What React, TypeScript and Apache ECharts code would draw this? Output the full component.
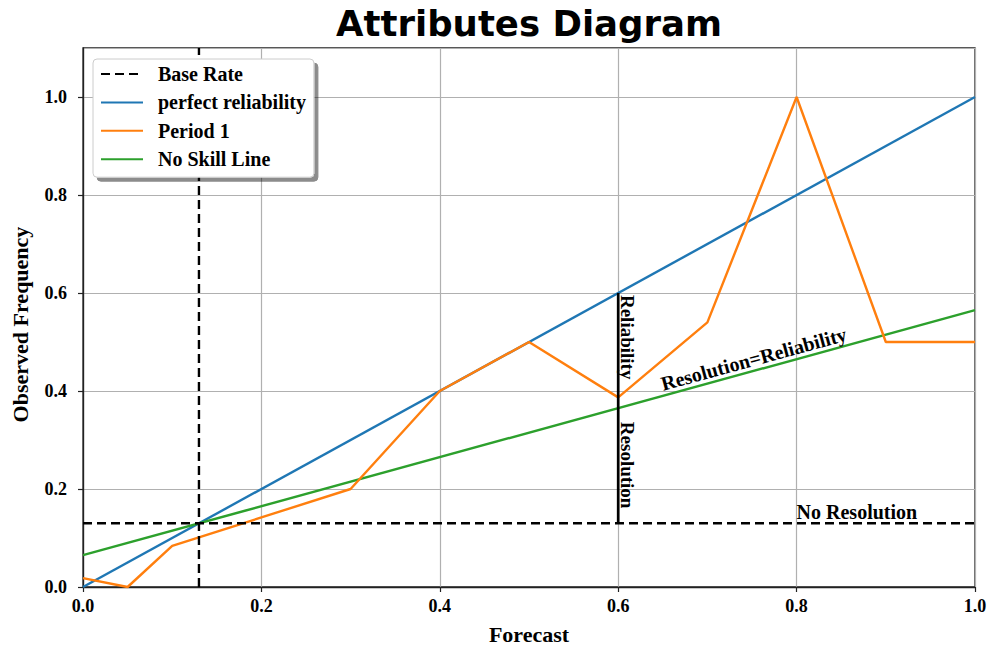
import React, { useEffect, useRef } from "react";
import * as echarts from "echarts";

// ---- data ----
const baseRate = 0.13;
const forecastBins = [0, 0.05, 0.1, 0.2, 0.3, 0.4, 0.5, 0.6, 0.7, 0.8, 0.9, 1.0];
const period1Obs = [0.018, 0, 0.084, 0.142, 0.2, 0.4, 0.5, 0.387, 0.54, 1.0, 0.5, 0.5];
const perfectX = [0, 1];
const perfectY = [0, 1];
const noSkillX = [0, 1];
const noSkillY = [0.065, 0.565];
const xTickValues = [0, 0.2, 0.4, 0.6, 0.8, 1.0];
const yTickValues = [0, 0.2, 0.4, 0.6, 0.8, 1.0];
const yMax = 1.1;
const reliabilityX = 0.6;
const reliabilityTop = 0.6;
const legendNames = ["Base Rate", "perfect reliability", "Period 1", "No Skill Line"];
const annotations = [
  { text: "Reliability", x: 0.61, y: 0.596, rotate: -90, align: "left", size: 19 },
  { text: "Resolution", x: 0.61, y: 0.337, rotate: -90, align: "left", size: 19 },
  { text: "Resolution=Reliability", x: 0.755, y: 0.446, rotate: 15.3, align: "center", size: 20, bottom: true },
  { text: "No Resolution", x: 0.8, y: 0.132, rotate: 0, align: "left", size: 20, bottom: true },
];

const SERIF = "'Liberation Serif', 'Times New Roman', serif";

const zip = (xs: number[], ys: number[]) => xs.map((x, i) => [x, ys[i]]);

export default function App() {
  const ref = useRef<HTMLDivElement>(null);
  useEffect(() => {
    document.body.style.margin = "0";
    document.documentElement.style.overflow = "hidden";
    if (!ref.current) return;
    const chart = echarts.init(ref.current, undefined, { renderer: "svg" });
    const dash = [9, 5];
    chart.setOption({
      animation: false,
      backgroundColor: "#fff",
      grid: {
        left: 83,
        right: 12,
        top: 48,
        bottom: 58,
        outerBoundsMode: "none",
        containLabel: false,
        show: true,
        borderColor: "#222",
        borderWidth: 1.3,
      },
      legend: {
        data: legendNames,
        orient: "vertical",
        left: 93,
        top: 59,
        z: 20,
        padding: [5, 8, 8, 7],
        itemWidth: 42,
        itemHeight: 14,
        itemGap: 8.4,
        backgroundColor: "#fff",
        borderColor: "#ccc",
        borderWidth: 1,
        borderRadius: 4,
        shadowColor: "rgba(0,0,0,0.45)",
        shadowBlur: 0,
        shadowOffsetX: 4,
        shadowOffsetY: 4,
        itemStyle: { opacity: 0 },
        textStyle: {
          fontFamily: SERIF,
          fontWeight: "bold",
          fontSize: 20,
          color: "#000",
          lineHeight: 20,
          padding: [0, 0, 0, 10],
        },
      },
      xAxis: {
        type: "value",
        min: 0,
        max: 1,
        interval: 0.2,
        name: "Forecast",
        nameLocation: "middle",
        nameGap: 36,
        nameTextStyle: { fontFamily: SERIF, fontWeight: "bold", fontSize: 22, color: "#000" },
        axisLine: { show: true, onZero: false, lineStyle: { color: "#222", width: 1.3 } },
        axisTick: { show: true, length: 5, lineStyle: { color: "#222", width: 1.2 } },
        axisLabel: {
          margin: 10,
          fontFamily: SERIF,
          fontWeight: "bold",
          fontSize: 18,
          color: "#000",
          formatter: (v: number) =>
            xTickValues.some((t) => Math.abs(t - v) < 1e-6) ? v.toFixed(1) : "",
        },
        splitLine: { show: true, lineStyle: { color: "#b0b0b0", width: 1.2 } },
      },
      yAxis: {
        type: "value",
        min: 0,
        max: yMax,
        interval: 0.2,
        name: "Observed Frequency",
        nameLocation: "middle",
        nameGap: 52,
        nameTextStyle: {
          fontFamily: SERIF,
          fontWeight: "bold",
          fontSize: 22,
          color: "#000",
          padding: [0, 14, 0, 0],
        },
        axisLine: { show: true, onZero: false, lineStyle: { color: "#222", width: 1.3 } },
        axisTick: { show: true, length: 5, lineStyle: { color: "#222", width: 1.2 } },
        axisLabel: {
          margin: 16,
          fontFamily: SERIF,
          fontWeight: "bold",
          fontSize: 18,
          color: "#000",
          showMaxLabel: false,
          formatter: (v: number) =>
            yTickValues.some((t) => Math.abs(t - v) < 1e-6) ? v.toFixed(1) : "",
        },
        splitLine: { show: true, lineStyle: { color: "#b0b0b0", width: 1.2 } },
      },
      series: [
        {
          name: "perfect reliability",
          type: "line",
          data: zip(perfectX, perfectY),
          symbol: "none",
          color: "#1f77b4",
          lineStyle: { color: "#1f77b4", width: 2.4 },
          z: 3,
        },
        {
          name: "Period 1",
          type: "line",
          data: zip(forecastBins, period1Obs),
          symbol: "none",
          color: "#ff7f0e",
          lineStyle: { color: "#ff7f0e", width: 2.4 },
          z: 4,
        },
        {
          name: "No Skill Line",
          type: "line",
          data: zip(noSkillX, noSkillY),
          symbol: "none",
          color: "#2ca02c",
          lineStyle: { color: "#2ca02c", width: 2.4 },
          z: 3,
        },
        {
          name: "Base Rate",
          type: "line",
          data: [
            [baseRate, 0],
            [baseRate, yMax],
          ],
          symbol: "none",
          color: "#000",
          lineStyle: { color: "#000", width: 2.4, type: dash },
          z: 5,
        },
        {
          name: "Base Rate",
          type: "line",
          data: [
            [0, baseRate],
            [1, baseRate],
          ],
          symbol: "none",
          color: "#000",
          lineStyle: { color: "#000", width: 2.4, type: dash },
          z: 5,
        },
        {
          name: "reliabilityBar",
          type: "line",
          data: [
            [reliabilityX, baseRate],
            [reliabilityX, reliabilityTop],
          ],
          symbol: "none",
          color: "#000",
          lineStyle: { color: "#000", width: 2.7 },
          z: 6,
        },
      ],
    });

    const graphics: any[] = [
      {
        type: "text",
        x: 83 + (987 - 83 - 12) / 2,
        y: 23.5,
        style: {
          text: "Attributes Diagram",
          fontFamily: "'DejaVu Sans', sans-serif",
          fontWeight: "bold",
          fontSize: 35.5,
          fill: "#000",
          align: "center",
          verticalAlign: "middle",
        },
      },
    ];
    annotations.forEach((a) => {
      const p = chart.convertToPixel({ gridIndex: 0 }, [a.x, a.y]) as number[];
      graphics.push({
        type: "text",
        x: p[0],
        y: p[1],
        rotation: (a.rotate * Math.PI) / 180,
        z: 10,
        style: {
          text: a.text,
          fontFamily: SERIF,
          fontWeight: "bold",
          fontSize: a.size,
          fill: "#000",
          align: a.align,
          verticalAlign: (a as any).bottom ? "bottom" : "middle",
        },
      });
    });
    chart.setOption({ graphic: graphics });

    return () => chart.dispose();
  }, []);
  return <div ref={ref} style={{ width: 987, height: 645 }} />;
}
